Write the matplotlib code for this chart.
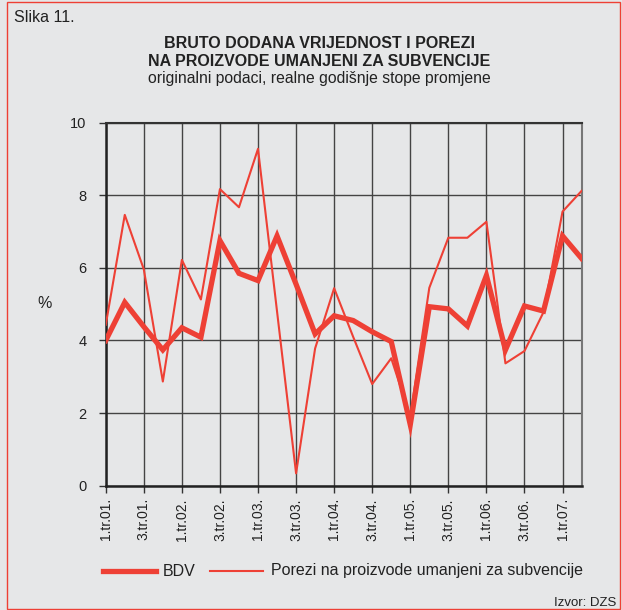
import matplotlib.pyplot as plt
import matplotlib.patches as patches
import numpy as np

plt.rcParams['font.family'] = ['Liberation Sans', 'DejaVu Sans']

# quarters 1.tr.01 .. 2.tr.07
bdv = [4.0, 5.05, 4.38, 3.74, 4.35, 4.09, 6.75, 5.85, 5.65, 6.88,
       5.55, 4.18, 4.68, 4.55, 4.24, 3.97, 1.68, 4.93, 4.87, 4.40,
       5.79, 3.74, 4.95, 4.81, 6.88, 6.26]
porezi = [4.43, 7.46, 5.96, 2.87, 6.22, 5.13, 8.17, 7.67, 9.28, 4.80,
          0.34, 3.78, 5.44, 4.10, 2.80, 3.51, 1.90, 5.45, 6.83, 6.83,
          7.27, 3.37, 3.71, 4.78, 7.55, 8.12]
xlabels = ["1.tr.01.", "3.tr.01.", "1.tr.02.", "3.tr.02.", "1.tr.03.",
           "3.tr.03.", "1.tr.04.", "3.tr.04.", "1.tr.05.", "3.tr.05.",
           "1.tr.06.", "3.tr.06.", "1.tr.07."]
yticks = [0, 2, 4, 6, 8, 10]

red = '#ee4035'
bg = '#e6e7e8'
txt = '#222222'

fig = plt.figure(figsize=(6.22, 6.10), dpi=100, facecolor=bg)
ax = fig.add_axes([0.170, 0.2038, 0.765, 0.5951], facecolor=bg)

x = np.arange(len(bdv))
ax.plot(x, bdv, color=red, lw=3.8, solid_joinstyle='miter', zorder=4)
ax.plot(x, porezi, color=red, lw=1.5, zorder=3)

ax.set_xlim(0, len(bdv) - 1)
ax.set_ylim(0, 10)
ax.set_xticks(np.arange(0, len(bdv), 2))
ax.set_xticklabels(xlabels, rotation=90, fontsize=10, color=txt)
ax.set_yticks(yticks)
ax.set_yticklabels([str(v) for v in yticks], fontsize=10.5, color=txt)
ax.tick_params(axis='both', direction='out', length=5, width=1, color='#333333')
ax.tick_params(axis='y', pad=9)
ax.tick_params(axis='x', pad=4)
ax.grid(True, color='#444444', lw=1.0)
ax.set_axisbelow(True)
for side in ['left', 'bottom']:
    ax.spines[side].set_linewidth(1.8)
    ax.spines[side].set_color(txt)
ax.spines['top'].set_linewidth(1.5)
ax.spines['top'].set_color('#333333')
ax.spines['right'].set_linewidth(1.5)
ax.spines['right'].set_color('#777777')

fig.text(37 / 622, 1 - 303 / 610, '%', fontsize=11.5, ha='left', va='center', color=txt)

fig.text(14 / 622, 1 - 17 / 610, 'Slika 11.', fontsize=11.5, ha='left', va='center', color=txt)
fig.text(319 / 622, 1 - 43 / 610, 'BRUTO DODANA VRIJEDNOST I POREZI', fontsize=11.5,
         fontweight='bold', ha='center', va='center', color=txt)
fig.text(319 / 622, 1 - 61 / 610, 'NA PROIZVODE UMANJENI ZA SUBVENCIJE', fontsize=11.5,
         fontweight='bold', ha='center', va='center', color=txt)
fig.text(319 / 622, 1 - 78 / 610, 'originalni podaci, realne godišnje stope promjene',
         fontsize=11.3, ha='center', va='center', color=txt)

# legend
ly = 1 - 571 / 610
fig.add_artist(plt.Line2D([103 / 622, 156 / 622], [ly, ly], color=red, lw=3.8))
fig.text(163 / 622, ly, 'BDV', fontsize=11.5, ha='left', va='center', color=txt)
fig.add_artist(plt.Line2D([210 / 622, 263 / 622], [ly, ly], color=red, lw=1.5))
fig.text(271 / 622, ly, 'Porezi na proizvode umanjeni za subvencije', fontsize=11.5,
         ha='left', va='center', color=txt)

fig.text(616 / 622, 1 - 603 / 610, 'Izvor: DZS', fontsize=9.5, ha='right', va='center', color=txt)

fig.add_artist(patches.Rectangle((7 / 622, 1 / 610), 613 / 622, 607.5 / 610,
                                 transform=fig.transFigure, fill=False,
                                 edgecolor=red, lw=1.0))

fig.savefig('out.png', dpi=100, facecolor=bg)
